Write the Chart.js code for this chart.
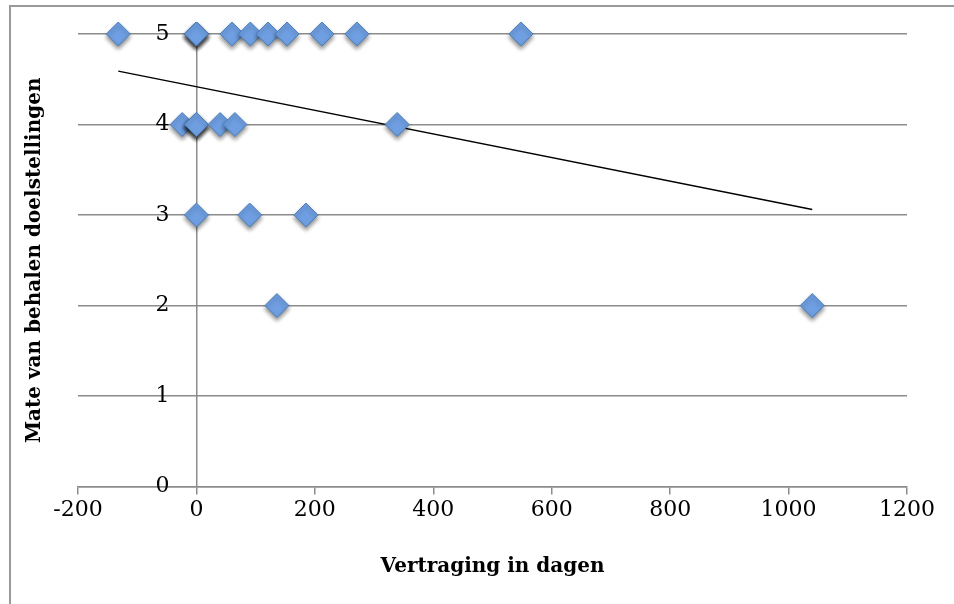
<!DOCTYPE html>
<html>
<head>
<meta charset="utf-8">
<script src="https://cdn.jsdelivr.net/npm/chart.js@4/dist/chart.umd.min.js"></script>
<style>
  html, body { margin: 0; background: #fff; overflow: hidden; width: 954px; height: 604px; }
  #frame { position: absolute; left: 9px; top: 5px; width: 1000px; height: 700px;
           border-top: 2px solid #9a9a9a; border-left: 2px solid #9a9a9a; }
  #chart { position: absolute; left: 0; top: 0; }
</style>
</head>
<body>
<div id="frame"></div>
<canvas id="chart" width="954" height="604"></canvas>
<script>
// vertraging (dagen) en mate van behalen
const vertraging = [-132, 0, 0, 0, 60, 91, 121, 153, 212, 271, 548,
                    -24, 0, 0, 0, 40, 65, 339,
                    0, 90, 185,
                    136, 1040];
const mate = [5, 5, 5, 5, 5, 5, 5, 5, 5, 5, 5,
              4, 4, 4, 4, 4, 4, 4,
              3, 3, 3,
              2, 2];
// trendlijn begin- en eindpunt
const trendX = [-132, 1040];
const trendY = [4.59, 3.06];

const xTicks = [-200, 0, 200, 400, 600, 800, 1000, 1200];
const yTicks = [0, 1, 2, 3, 4, 5];

const gridColor = '#8c8c8c';
const tickFont = { family: 'DejaVu Serif', size: 22 };
const titleFont = { family: 'DejaVu Serif', size: 20, weight: 'bold' };

// schaduw onder de ruiten
const shadowPlugin = {
  id: 'shadow',
  beforeDatasetDraw(chart, args) {
    if (args.index !== 0) return;
    const ctx = chart.ctx;
    ctx.save();
    ctx.shadowColor = 'rgba(0,0,0,0.45)';
    ctx.shadowBlur = 4;
    ctx.shadowOffsetY = 3;
  },
  afterDatasetDraw(chart, args) {
    if (args.index !== 0) return;
    chart.ctx.restore();
  }
};

// labels van de y-as links van de lijn bij x = 0
const yLabelPlugin = {
  id: 'yLabels',
  afterDraw(chart) {
    const ctx = chart.ctx;
    const xs = chart.scales.x, ys = chart.scales.y;
    const xPix = xs.getPixelForValue(0) - 27;
    ctx.save();
    ctx.font = tickFont.size + 'px "' + tickFont.family + '"';
    ctx.fillStyle = '#000';
    ctx.textAlign = 'right';
    ctx.textBaseline = 'middle';
    yTicks.forEach(v => ctx.fillText(String(v), xPix, ys.getPixelForValue(v)));
    ctx.restore();
  }
};

new Chart(document.getElementById('chart'), {
  type: 'scatter',
  data: {
    datasets: [{
      data: vertraging.map((v, i) => ({ x: v, y: mate[i] })),
      pointStyle: 'rectRot',
      pointRadius: 12,
      backgroundColor: '#6f9fe2',
      borderColor: '#4a7ebb',
      borderWidth: 1,
      clip: false
    }, {
      type: 'line',
      data: trendX.map((v, i) => ({ x: v, y: trendY[i] })),
      borderColor: '#000',
      borderWidth: 1.5,
      pointRadius: 0,
      fill: false,
      clip: false
    }]
  },
  options: {
    responsive: false,
    animation: false,
    layout: { padding: { left: 23, right: 47, top: 34, bottom: 25 } },
    plugins: { legend: { display: false }, tooltip: { enabled: false } },
    scales: {
      x: {
        type: 'linear', min: -200, max: 1200,
        afterBuildTicks: s => { s.ticks = xTicks.map(v => ({ value: v })); },
        ticks: { font: tickFont, color: '#000', padding: 2, callback: v => String(v) },
        grid: { drawOnChartArea: false, tickLength: 8, color: gridColor, lineWidth: 1.5 },
        border: { color: gridColor, width: 1.5 },
        title: { display: true, text: 'Vertraging in dagen', font: titleFont, color: '#000',
                 padding: { top: 30, bottom: 0 } }
      },
      y: {
        min: 0, max: 5,
        afterBuildTicks: s => { s.ticks = yTicks.map(v => ({ value: v })); },
        ticks: { display: false },
        grid: { color: gridColor, lineWidth: 1.5, drawTicks: false },
        border: { display: false },
        title: { display: true, text: 'Mate van behalen doelstellingen', font: titleFont, color: '#000',
                 padding: { top: 0, bottom: 31 } }
      },
      y2: {
        position: { x: 0 }, min: 0, max: 5,
        ticks: { display: false },
        grid: { drawOnChartArea: false, drawTicks: false },
        border: { color: gridColor, width: 1.5 }
      }
    }
  },
  plugins: [shadowPlugin, yLabelPlugin]
});
</script>
</body>
</html>
